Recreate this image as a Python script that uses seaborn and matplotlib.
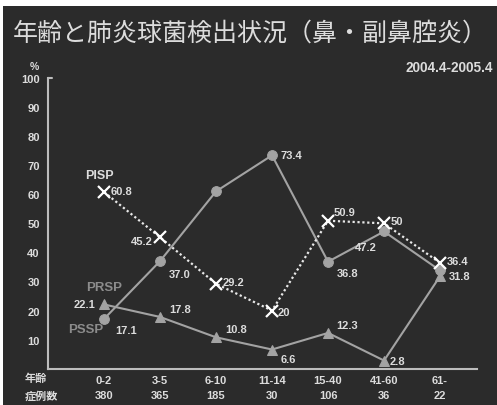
import matplotlib
matplotlib.use("Agg")
import matplotlib.pyplot as plt
import matplotlib.transforms as mtransforms
import seaborn as sns
import pandas as pd
from matplotlib.patches import Rectangle

sns.set_theme(style="dark")
plt.rcParams['font.family'] = ['Liberation Sans', 'Noto Sans CJK JP', 'DejaVu Sans']

ages = ["0-2", "3-5", "6-10", "11-14", "15-40", "41-60", "61-"]
cases = ["380", "365", "185", "30", "106", "36", "22"]
pisp = [60.8, 45.2, 29.2, 20.0, 50.9, 50.0, 36.4]
pssp = [17.1, 37.0, 61.0, 73.4, 36.8, 47.2, 33.8]
prsp = [22.1, 17.8, 10.8, 6.6, 12.3, 2.8, 31.8]

pisp_lbl = ["60.8", "45.2", "29.2", "20", "50.9", "50", "36.4"]
pssp_lbl = ["17.1", "37.0", None, "73.4", "36.8", "47.2", None]
prsp_lbl = ["22.1", "17.8", "10.8", "6.6", "12.3", "2.8", "31.8"]

BG = "#2b2b2b"
LINE = "#a3a3a3"
TXT = "#dcdcdc"
GREY = "#8c8c8c"

df = pd.DataFrame({"x": range(len(ages)), "PISP": pisp, "PSSP": pssp, "PRSP": prsp})

fig = plt.figure(figsize=(4.97, 4.06), dpi=100, facecolor="white")
fig.patches.append(Rectangle((3/497, 0), 1, 1 - 7/406, transform=fig.transFigure,
                             facecolor=BG, edgecolor="none", zorder=-10))
ax = fig.add_axes([48/497, (406-369.7)/406, (477-48)/497, (369.7-79)/406])
ax.set_facecolor("none")

sns.lineplot(data=df, x="x", y="PSSP", ax=ax, color=LINE, lw=1.5, marker="o",
             markersize=7, markeredgecolor=LINE, zorder=3)
sns.lineplot(data=df, x="x", y="PRSP", ax=ax, color=LINE, lw=1.5, marker="^",
             markersize=7, markeredgecolor=LINE, zorder=3)
sns.lineplot(data=df, x="x", y="PISP", ax=ax, color="#e8e8e8", lw=1.6, linestyle=(0, (1, 1.2)),
             marker="x", markersize=8, markeredgewidth=1.6, zorder=4)

ax.set_xlim(-1, 6.66)
ax.set_ylim(0, 100)
ax.set_xlabel("")
ax.set_ylabel("")
ax.grid(False)
for s in ["top", "right"]:
    ax.spines[s].set_visible(False)
for s in ["left", "bottom"]:
    ax.spines[s].set_color("#bdbdbd")
    ax.spines[s].set_linewidth(1.5)
ax.set_yticks(range(10, 101, 10))
ax.set_yticklabels([str(v) for v in range(10, 101, 10)], color=TXT, fontsize=8, fontweight="bold")
ax.tick_params(axis="y", length=0, pad=6)
ax.set_xticks(range(len(ages)))
ax.set_xticklabels(ages, color=TXT, fontsize=8, fontweight="bold")
ax.tick_params(axis="x", length=3, color="#bdbdbd", width=1.2, pad=1.5)
trans = mtransforms.blended_transform_factory(ax.transData, fig.transFigure)
for i, c in enumerate(cases):
    ax.text(i, 1 - 396/406, c, transform=trans, color=TXT, fontsize=8, fontweight="bold",
            ha="center", va="center")
# small tick at top of y axis
ax.plot([-1, -0.93], [100, 100], color="#bdbdbd", lw=1.5, clip_on=False)

fs = 8
def lab(x, y, s, dx, dy, ha="left", color=TXT):
    ax.annotate(s, (x, y), xytext=(dx, dy), textcoords="offset points", ha=ha, va="center",
                color=color, fontsize=fs, fontweight="bold")

off_pisp = [(5, 1), (-5, -3), (5, 1), (4, -1), (4, 6), (5, 2), (5, 1)]
off_pssp = [(8, -8), (6, -9), None, (6, 0), (6, -8), (-5, -11), None]
off_prsp = [(-6, 0), (7, 6), (7, 6), (6, -7), (6, 6), (4, 0), (6, 0)]
for i in range(len(ages)):
    dx, dy = off_pisp[i]
    lab(i, pisp[i], pisp_lbl[i], dx, dy, ha="left" if dx > 0 else "right")
    if pssp_lbl[i]:
        dx, dy = off_pssp[i]
        lab(i, pssp[i], pssp_lbl[i], dx, dy, ha="left" if dx > 0 else "right")
    dx, dy = off_prsp[i]
    lab(i, prsp[i], prsp_lbl[i], dx, dy, ha="left" if dx > 0 else "right")

ax.text(-0.09, 66.6, "PISP", color=TXT, fontsize=9, fontweight="bold", ha="center", va="center")
ax.text(0.0, 28.2, "PRSP", color=GREY, fontsize=9.5, fontweight="bold", ha="center", va="center")
ax.text(-0.33, 13.7, "PSSP", color=GREY, fontsize=9.5, fontweight="bold", ha="center", va="center")

fig.text(13/497, 1 - 34/406, "年齢と肺炎球菌検出状況（鼻・副鼻腔炎）", color=TXT, fontsize=18.0,
         family=["Noto Sans CJK JP"], ha="left", va="center")
fig.text(493/497, 1 - 68/406, "2004.4-2005.4", color=TXT, fontsize=9.8, fontweight="bold",
         ha="right", va="center")
fig.text(34/497, 1 - 67/406, "%", color=TXT, fontsize=7.5, fontweight="bold", ha="center", va="center")
fig.text(36/497, 1 - 378/406, "年齢", color=TXT, fontsize=8, fontweight="bold",
         family=["Noto Sans CJK JP"], ha="center", va="center")
fig.text(41/497, 1 - 396/406, "症例数", color=TXT, fontsize=8, fontweight="bold",
         family=["Noto Sans CJK JP"], ha="center", va="center")

fig.savefig("out.png", dpi=100, facecolor="white")
